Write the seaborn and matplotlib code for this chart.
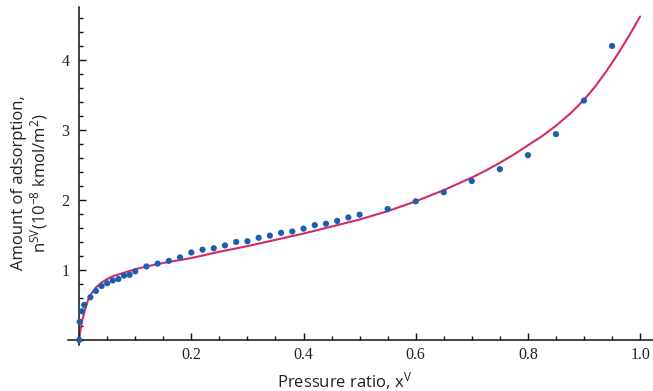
import pandas as pd
import matplotlib
matplotlib.use("Agg")
import matplotlib.pyplot as plt
import seaborn as sns
from matplotlib.ticker import FixedLocator, MultipleLocator

# measured points (pressure ratio, amount of adsorption)
x_meas = [0, 0.001, 0.005, 0.009, 0.02, 0.03, 0.04, 0.05, 0.06, 0.07, 0.08, 0.09,
          0.10, 0.12, 0.14, 0.16, 0.18, 0.20, 0.22, 0.24, 0.26, 0.28, 0.30, 0.32,
          0.34, 0.36, 0.38, 0.40, 0.42, 0.44, 0.46, 0.48, 0.50, 0.55, 0.60, 0.65,
          0.70, 0.75, 0.80, 0.85, 0.90, 0.95]
n_meas = [0, 0.26, 0.41, 0.50, 0.61, 0.70, 0.77, 0.81, 0.85, 0.87, 0.92, 0.93,
          0.98, 1.05, 1.09, 1.13, 1.18, 1.25, 1.29, 1.31, 1.35, 1.40, 1.41, 1.46,
          1.49, 1.53, 1.55, 1.59, 1.64, 1.66, 1.70, 1.75, 1.79, 1.87, 1.98, 2.11,
          2.27, 2.44, 2.64, 2.94, 3.42, 4.20]

# fitted curve
x_fit = [0, 0.002, 0.005, 0.01, 0.015, 0.02, 0.03, 0.04, 0.05, 0.06, 0.08, 0.10,
         0.12, 0.15, 0.20, 0.25, 0.30, 0.35, 0.40, 0.45, 0.50, 0.55, 0.60, 0.65,
         0.70, 0.725, 0.75, 0.775, 0.80, 0.825, 0.85, 0.875, 0.90, 0.92, 0.94,
         0.96, 0.98, 1.00]
n_fit = [0, 0.13, 0.26, 0.42, 0.55, 0.64, 0.75, 0.82, 0.87, 0.91, 0.96, 1.01,
         1.05, 1.10, 1.17, 1.26, 1.34, 1.43, 1.52, 1.62, 1.72, 1.84, 1.98, 2.14,
         2.32, 2.42, 2.53, 2.65, 2.78, 2.91, 3.06, 3.23, 3.43, 3.62, 3.84,
         4.08, 4.34, 4.62]

x_ticks = [0.2, 0.4, 0.6, 0.8, 1.0]
x_tick_labels = ["0.2", "0.4", "0.6", "0.8", "1.0"]
y_ticks = [1, 2, 3, 4]
y_tick_labels = ["1", "2", "3", "4"]

df_meas = pd.DataFrame({"x": x_meas, "n": n_meas})
df_fit = pd.DataFrame({"x": x_fit, "n": n_fit})

sns.set_style("ticks")
plt.rcParams["font.family"] = ["Open Sans", "DejaVu Sans"]
plt.rcParams["mathtext.default"] = "regular"

fig = plt.figure(figsize=(6.53, 3.91), dpi=100)
ax = fig.add_axes([0.104, 0.118, 0.896, 0.863])

sns.lineplot(data=df_fit, x="x", y="n", ax=ax, color="#d42a6a", linewidth=1.5,
             estimator=None, sort=False, zorder=2)
sns.scatterplot(data=df_meas, x="x", y="n", ax=ax, color="#1d5fae", s=20,
                edgecolor="none", zorder=3, clip_on=False)

ax.set_xlim(-0.02, 1.023)
ax.set_ylim(-0.07, 4.75)

ax.spines["top"].set_visible(False)
ax.spines["right"].set_visible(False)
ax.spines["left"].set_position(("data", 0))
ax.spines["bottom"].set_position(("data", 0))
for s in ["left", "bottom"]:
    ax.spines[s].set_linewidth(1.1)
    ax.spines[s].set_color("#111111")

ax.xaxis.set_major_locator(FixedLocator(x_ticks))
ax.set_xticklabels(x_tick_labels)
ax.xaxis.set_minor_locator(MultipleLocator(0.05))
ax.yaxis.set_major_locator(FixedLocator(y_ticks))
ax.set_yticklabels(y_tick_labels)
ax.yaxis.set_minor_locator(MultipleLocator(0.2))

ax.tick_params(which="both", direction="in", color="#111111", width=1.0,
               bottom=True, left=True, top=False, right=False)
ax.tick_params(which="major", length=5)
ax.tick_params(which="minor", length=3)
ax.tick_params(axis="x", which="major", pad=5)
ax.tick_params(axis="y", which="major", pad=7)
for lab in ax.get_xticklabels() + ax.get_yticklabels():
    lab.set_fontfamily("Liberation Serif")
    lab.set_fontsize(11.5)
    lab.set_color("#222222")

ax.set_xlabel("Pressure ratio, x$^{V}$", fontsize=12, color="#222222")
ax.xaxis.set_label_coords(0.473, -0.075)
ax.set_ylabel("Amount of adsorption,\nn$^{SV}$(10$^{-8}$ kmol/m$^{2}$)",
              fontsize=12, color="#222222", linespacing=1.1)
ax.yaxis.set_label_coords(-0.03, 0.48)

plt.savefig("out.png", dpi=100)
